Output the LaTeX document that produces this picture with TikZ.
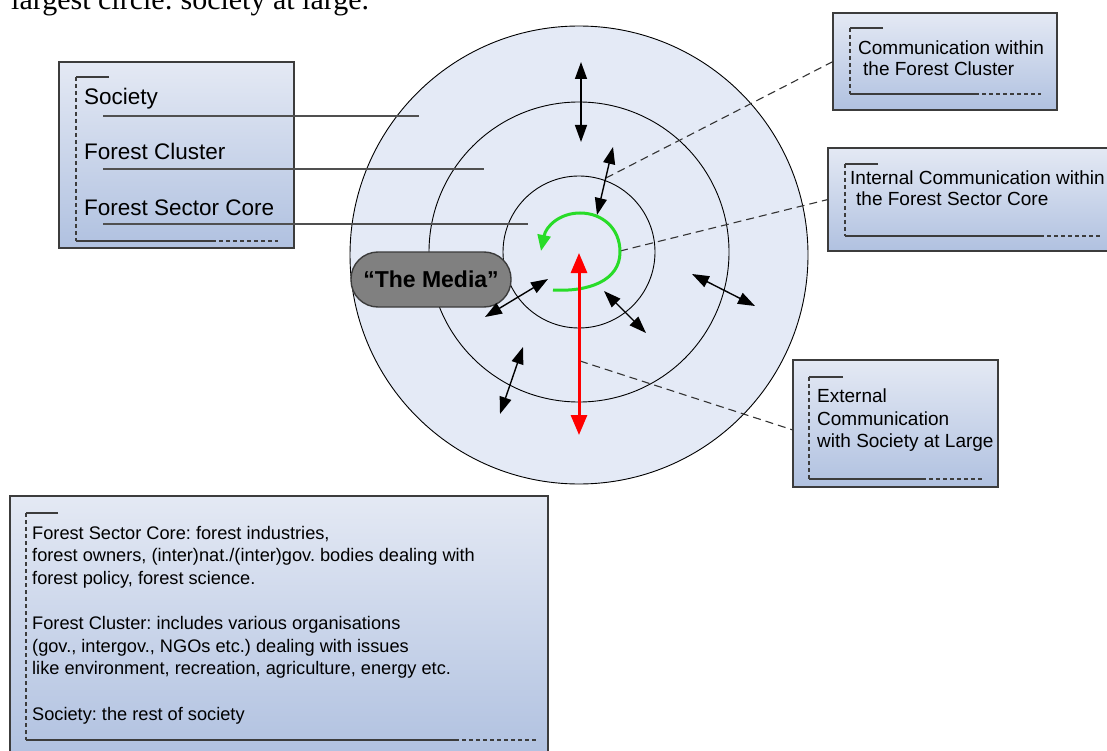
\documentclass[tikz,border=0pt]{standalone}
\usepackage{fontspec}
\setmainfont{Liberation Sans}
\newfontfamily\capfont{Liberation Serif}
\usetikzlibrary{arrows.meta}
\frenchspacing

\definecolor{ringfill}{RGB}{228,234,246}
\definecolor{boxtop}{RGB}{228,233,244}
\definecolor{boxbot}{RGB}{176,193,224}
\definecolor{edgegray}{RGB}{60,60,60}
\definecolor{leadgray}{RGB}{80,80,80}
\definecolor{medgray}{RGB}{128,128,128}
\definecolor{cyclegreen}{RGB}{40,220,40}

\begin{document}
\begin{tikzpicture}[x=1pt,y=-1pt,
  infobox/.style={draw=edgegray, line width=1.4pt, top color=boxtop, bottom color=boxbot,
    anchor=north west, inner sep=0pt, outer sep=0pt},
  bracket/.style={draw=edgegray, line width=1.3pt},
  brdash/.style={bracket, dash pattern=on 4pt off 3pt},
  ring/.style={draw=black, line width=0.9pt},
  labelline/.style={draw=leadgray, line width=1.8pt},
  leader/.style={draw=black!80, line width=1.1pt, dash pattern=on 8pt off 5pt},
  twoway/.style={line width=1.4pt, {Triangle[length=17pt,width=12pt]}-{Triangle[length=17pt,width=12pt]}},
  redway/.style={draw=red, line width=3pt, {Triangle[length=20pt,width=16pt]}-{Triangle[length=20pt,width=16pt]}},
  cyclearrow/.style={draw=cyclegreen, line width=3pt, -{Triangle[length=16pt,width=13pt]}},
  bigtxt/.style={anchor=base west, inner sep=0pt, font=\fontsize{22.5}{27}\selectfont},
  midtxt/.style={anchor=base west, inner sep=0pt, font=\fontsize{19}{23}\selectfont},
  smalltxt/.style={anchor=base west, inner sep=0pt, font=\fontsize{18.2}{22}\selectfont},
  media/.style={draw=edgegray, line width=1.4pt, fill=medgray, rounded corners=27pt,
    minimum width=160pt, minimum height=55pt, inner sep=0pt,
    font=\bfseries\fontsize{23}{27}\selectfont}
]
\useasboundingbox (0,0) rectangle (1107,751);
\clip (0,0) rectangle (1107,751);

% caption line running off the top edge
\node[anchor=base west, inner sep=0pt, font=\capfont\fontsize{30}{36}\selectfont] (caption) at (11,10)
  {largest circle: society at large.};

% concentric rings
\fill[ringfill] (579,255) circle (229);
\draw[ring] (579,255) circle (229);
\draw[ring] (579,252) circle (150);
\draw[ring] (579,252) circle (76);

% legend of the rings
\node[infobox, minimum width=235pt, minimum height=186pt] (legend) at (59,62) {};
\draw[bracket] (109,77) -- (76,77);
\draw[brdash] (76,77) -- (76,241);
\draw[bracket] (76,241) -- (212,241);
\draw[brdash] (212,241) -- (278,241);
\node[bigtxt] (tsoc) at (84,105) {Society};
\node[bigtxt] (tclu) at (84,160) {Forest Cluster};
\node[bigtxt] (tcor) at (84,216) {Forest Sector Core};
\coordinate (lsoc) at (103,116);
\coordinate (lclu) at (103,169);
\coordinate (lcor) at (103,224);
\coordinate (esoc) at (419,116);
\coordinate (eclu) at (484,169);
\coordinate (ecor) at (528,224);
\draw[labelline] (lsoc) -- (esoc);
\draw[labelline] (lclu) -- (eclu);
\draw[labelline] (lcor) -- (ecor);

% box: communication within the cluster
\node[infobox, minimum width=224pt, minimum height=97pt] (boxcf) at (833,13) {};
\draw[bracket] (883,28) -- (850,28);
\draw[brdash] (850,28) -- (850,94);
\draw[bracket] (850,94) -- (975,94);
\draw[brdash] (975,94) -- (1041,94);
\node[midtxt] (tcf1) at (858,55) {Communication within};
\node[midtxt] (tcf2) at (863,76) {the Forest Cluster};

% box: internal communication
\node[infobox, minimum width=290pt, minimum height=103pt] (boxic) at (828,148) {};
\draw[bracket] (878,164) -- (845,164);
\draw[brdash] (845,164) -- (845,236);
\draw[bracket] (845,236) -- (1040,236);
\draw[brdash] (1040,236) -- (1100,236);
\node[midtxt] (tic1) at (850,185) {Internal Communication within};
\node[midtxt] (tic2) at (856,206) {the Forest Sector Core};

% box: external communication
\node[infobox, minimum width=205pt, minimum height=127pt] (boxex) at (793,360) {};
\draw[bracket] (843,377) -- (809,377);
\draw[brdash] (809,377) -- (809,479);
\draw[bracket] (809,479) -- (922,479);
\draw[brdash] (922,479) -- (983,479);
\node[midtxt] (tex1) at (817,402) {External};
\node[midtxt] (tex2) at (817,425) {Communication};
\node[midtxt] (tex3) at (817,447) {with Society at Large};

% box: definitions
\node[infobox, minimum width=538pt, minimum height=262pt] (boxdef) at (10,496) {};
\draw[bracket] (58,513) -- (26,513);
\draw[brdash] (26,513) -- (26,740);
\draw[bracket] (26,740) -- (455,740);
\draw[brdash] (455,740) -- (538,740);
\node[smalltxt] (d1) at (32,539) {Forest Sector Core: forest industries,};
\node[smalltxt] (d2) at (32,561.5) {forest owners, (inter)nat./(inter)gov. bodies dealing with};
\node[smalltxt] (d3) at (32,584) {forest policy, forest science.};
\node[smalltxt] (d4) at (32,629.5) {Forest Cluster: includes various organisations};
\node[smalltxt] (d5) at (32,652) {(gov., intergov., NGOs etc.) dealing with issues};
\node[smalltxt] (d6) at (32,674.5) {like environment, recreation, agriculture, energy etc.};
\node[smalltxt] (d7) at (32,720) {Society: the rest of society};

% dashed leaders to the boxes
\coordinate (pcf) at (606,178);
\coordinate (pic) at (620,251);
\coordinate (pex) at (580,361);
\draw[leader] (pcf) -- (boxcf.west);
\draw[leader] (pic) -- (boxic.west);
\draw[leader] (pex) -- ([yshift=-6.5pt]boxex.west);

% internal cycle of the core
\draw[cyclearrow] (553,290) .. controls (588,292) and (620,281) .. (620,252)
  .. controls (620,228) and (602,213) .. (580,213)
  .. controls (560,213) and (546,226) .. (541,251);

% the media
\node[media] (media) at (431,279.5) {“The Media”};

% two-way exchanges
\coordinate (a1) at (581,62);  \coordinate (b1) at (581,142);
\coordinate (a2) at (613,147); \coordinate (b2) at (597,215);
\coordinate (a3) at (548,279); \coordinate (b3) at (485,317);
\coordinate (a4) at (604,291); \coordinate (b4) at (646,333);
\coordinate (a5) at (692,274); \coordinate (b5) at (755,306);
\coordinate (a6) at (523,347); \coordinate (b6) at (500,414);
\draw[twoway] (a1) -- (b1);
\draw[twoway] (a2) -- (b2);
\draw[twoway] (a3) -- (b3);
\draw[twoway] (a4) -- (b4);
\draw[twoway] (a5) -- (b5);
\draw[twoway] (a6) -- (b6);
\coordinate (ra) at (579,253);
\coordinate (rb) at (579,435);
\draw[redway] (ra) -- (rb);
\end{tikzpicture}
\end{document}
